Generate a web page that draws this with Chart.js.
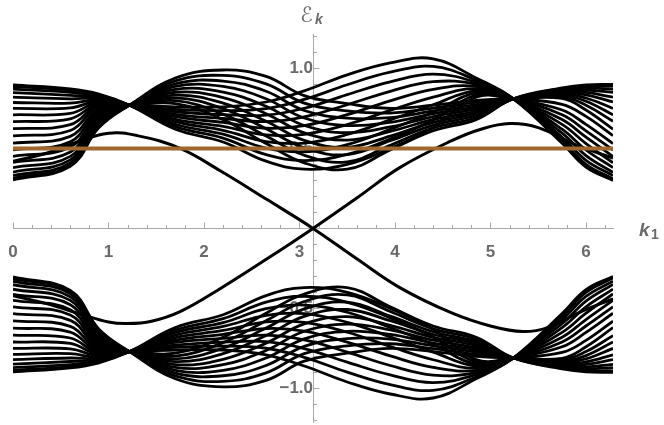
<!DOCTYPE html>
<html>
<head>
<meta charset="utf-8">
<script src="https://cdn.jsdelivr.net/npm/chart.js@4.4.1/dist/chart.umd.min.js"></script>
<style>
  html, body { margin: 0; padding: 0; background: #fff; }
</style>
</head>
<body>
<canvas id="bands" width="664" height="425"></canvas>
<script>
// k_1 sample points shared by every bulk band
const kGrid = [0, 0.6, 0.9, 1.22, 1.7, 2.2, 2.65, 3.05, 3.5, 3.95, 4.4, 4.85, 5.24, 5.75, 6.0, 6.283];

// positive-energy bulk bands at the kGrid points
const upperBands = [
  [0.897, 0.872, 0.840, 0.77, 0.620, 0.540, 0.420, 0.370, 0.400, 0.500, 0.630, 0.820, 0.81, 0.775, 0.700, 0.58],
  [0.887, 0.864, 0.834, 0.77, 0.636, 0.564, 0.461, 0.424, 0.462, 0.559, 0.678, 0.833, 0.81, 0.740, 0.650, 0.53],
  [0.870, 0.851, 0.827, 0.77, 0.651, 0.589, 0.502, 0.479, 0.524, 0.619, 0.726, 0.847, 0.81, 0.710, 0.610, 0.49],
  [0.848, 0.832, 0.820, 0.77, 0.667, 0.613, 0.543, 0.533, 0.587, 0.678, 0.773, 0.860, 0.81, 0.680, 0.570, 0.45],
  [0.820, 0.810, 0.812, 0.77, 0.682, 0.638, 0.584, 0.588, 0.649, 0.738, 0.821, 0.873, 0.81, 0.650, 0.530, 0.41],
  [0.787, 0.783, 0.805, 0.77, 0.698, 0.662, 0.626, 0.642, 0.711, 0.797, 0.869, 0.887, 0.81, 0.620, 0.490, 0.38],
  [0.750, 0.753, 0.797, 0.77, 0.713, 0.687, 0.667, 0.697, 0.773, 0.857, 0.917, 0.900, 0.81, 0.595, 0.455, 0.35],
  [0.710, 0.719, 0.790, 0.77, 0.729, 0.711, 0.708, 0.751, 0.836, 0.916, 0.964, 0.913, 0.81, 0.570, 0.425, 0.33],
  [0.667, 0.685, 0.782, 0.77, 0.744, 0.736, 0.749, 0.806, 0.898, 0.976, 1.012, 0.927, 0.81, 0.550, 0.400, 0.31],
  [0.623, 0.648, 0.775, 0.77, 0.760, 0.760, 0.790, 0.860, 0.960, 1.035, 1.060, 0.940, 0.81, 0.532, 0.383, 0.30],
  [0.578, 0.612, 0.765, 0.77, 0.780, 0.680, 0.530, 0.410, 0.370, 0.490, 0.610, 0.680, 0.81, 0.878, 0.897, 0.90],
  [0.533, 0.575, 0.750, 0.77, 0.798, 0.714, 0.577, 0.457, 0.416, 0.519, 0.628, 0.693, 0.81, 0.874, 0.888, 0.89],
  [0.491, 0.541, 0.735, 0.77, 0.816, 0.749, 0.623, 0.503, 0.461, 0.548, 0.646, 0.707, 0.81, 0.869, 0.878, 0.87],
  [0.450, 0.508, 0.720, 0.77, 0.833, 0.783, 0.670, 0.550, 0.507, 0.577, 0.663, 0.720, 0.81, 0.863, 0.865, 0.85],
  [0.413, 0.477, 0.705, 0.77, 0.851, 0.818, 0.717, 0.597, 0.552, 0.606, 0.681, 0.733, 0.81, 0.856, 0.850, 0.82],
  [0.380, 0.450, 0.690, 0.77, 0.869, 0.852, 0.763, 0.643, 0.598, 0.634, 0.699, 0.747, 0.81, 0.849, 0.835, 0.79],
  [0.352, 0.428, 0.675, 0.77, 0.887, 0.887, 0.810, 0.690, 0.643, 0.663, 0.717, 0.760, 0.81, 0.841, 0.815, 0.75],
  [0.330, 0.409, 0.660, 0.77, 0.904, 0.921, 0.857, 0.737, 0.689, 0.692, 0.734, 0.773, 0.81, 0.832, 0.795, 0.71],
  [0.313, 0.396, 0.645, 0.77, 0.922, 0.956, 0.903, 0.783, 0.734, 0.721, 0.752, 0.787, 0.81, 0.822, 0.770, 0.67],
  [0.303, 0.388, 0.630, 0.77, 0.940, 0.990, 0.950, 0.830, 0.780, 0.750, 0.770, 0.800, 0.81, 0.812, 0.740, 0.62]
];

// negative-energy bulk bands
const lowerBands = [
  [-0.897, -0.872, -0.840, -0.77, -0.620, -0.540, -0.420, -0.370, -0.400, -0.500, -0.630, -0.820, -0.81, -0.775, -0.700, -0.58],
  [-0.887, -0.864, -0.834, -0.77, -0.636, -0.564, -0.461, -0.424, -0.462, -0.559, -0.678, -0.833, -0.81, -0.740, -0.650, -0.53],
  [-0.870, -0.851, -0.827, -0.77, -0.651, -0.589, -0.502, -0.479, -0.524, -0.619, -0.726, -0.847, -0.81, -0.710, -0.610, -0.49],
  [-0.848, -0.832, -0.820, -0.77, -0.667, -0.613, -0.543, -0.533, -0.587, -0.678, -0.773, -0.860, -0.81, -0.680, -0.570, -0.45],
  [-0.820, -0.810, -0.812, -0.77, -0.682, -0.638, -0.584, -0.588, -0.649, -0.738, -0.821, -0.873, -0.81, -0.650, -0.530, -0.41],
  [-0.787, -0.783, -0.805, -0.77, -0.698, -0.662, -0.626, -0.642, -0.711, -0.797, -0.869, -0.887, -0.81, -0.620, -0.490, -0.38],
  [-0.750, -0.753, -0.797, -0.77, -0.713, -0.687, -0.667, -0.697, -0.773, -0.857, -0.917, -0.900, -0.81, -0.595, -0.455, -0.35],
  [-0.710, -0.719, -0.790, -0.77, -0.729, -0.711, -0.708, -0.751, -0.836, -0.916, -0.964, -0.913, -0.81, -0.570, -0.425, -0.33],
  [-0.667, -0.685, -0.782, -0.77, -0.744, -0.736, -0.749, -0.806, -0.898, -0.976, -1.012, -0.927, -0.81, -0.550, -0.400, -0.31],
  [-0.623, -0.648, -0.775, -0.77, -0.760, -0.760, -0.790, -0.860, -0.960, -1.035, -1.060, -0.940, -0.81, -0.532, -0.383, -0.30],
  [-0.578, -0.612, -0.765, -0.77, -0.780, -0.680, -0.530, -0.410, -0.370, -0.490, -0.610, -0.680, -0.81, -0.878, -0.897, -0.90],
  [-0.533, -0.575, -0.750, -0.77, -0.798, -0.714, -0.577, -0.457, -0.416, -0.519, -0.628, -0.693, -0.81, -0.874, -0.888, -0.89],
  [-0.491, -0.541, -0.735, -0.77, -0.816, -0.749, -0.623, -0.503, -0.461, -0.548, -0.646, -0.707, -0.81, -0.869, -0.878, -0.87],
  [-0.450, -0.508, -0.720, -0.77, -0.833, -0.783, -0.670, -0.550, -0.507, -0.577, -0.663, -0.720, -0.81, -0.863, -0.865, -0.85],
  [-0.413, -0.477, -0.705, -0.77, -0.851, -0.818, -0.717, -0.597, -0.552, -0.606, -0.681, -0.733, -0.81, -0.856, -0.850, -0.82],
  [-0.380, -0.450, -0.690, -0.77, -0.869, -0.852, -0.763, -0.643, -0.598, -0.634, -0.699, -0.747, -0.81, -0.849, -0.835, -0.79],
  [-0.352, -0.428, -0.675, -0.77, -0.887, -0.887, -0.810, -0.690, -0.643, -0.663, -0.717, -0.760, -0.81, -0.841, -0.815, -0.75],
  [-0.330, -0.409, -0.660, -0.77, -0.904, -0.921, -0.857, -0.737, -0.689, -0.692, -0.734, -0.773, -0.81, -0.832, -0.795, -0.71],
  [-0.313, -0.396, -0.645, -0.77, -0.922, -0.956, -0.903, -0.783, -0.734, -0.721, -0.752, -0.787, -0.81, -0.822, -0.770, -0.67],
  [-0.303, -0.388, -0.630, -0.77, -0.940, -0.990, -0.950, -0.830, -0.780, -0.750, -0.770, -0.800, -0.81, -0.812, -0.740, -0.62]
];

// the two edge modes crossing at k = pi
const edgeK1 = [0, 0.35, 0.65, 1.0, 1.3, 1.75, 2.17, 2.66, 3.1416, 3.6, 4.05, 4.6, 5.0, 5.34, 5.6, 5.95, 6.283];
const edgeE1 = [0.42, 0.47, 0.535, 0.595, 0.58, 0.50, 0.36, 0.18, 0, -0.19, -0.37, -0.53, -0.61, -0.645, -0.62, -0.52, -0.44];
const edgeK2 = [0, 0.35, 0.73, 1.0, 1.19, 1.45, 1.75, 2.16, 2.66, 3.1416, 3.6, 4.05, 4.6, 4.9, 5.2, 5.5, 5.9, 6.283];
const edgeE2 = [-0.42, -0.47, -0.54, -0.585, -0.595, -0.58, -0.52, -0.38, -0.19, 0, 0.19, 0.38, 0.55, 0.62, 0.655, 0.63, 0.52, 0.44];

const fermiLevel = 0.5;
const kMin = 0, kMax = 6.283;
const xTickVals = [0, 1, 2, 3, 4, 5, 6];
const yTickVals = [-1, -0.5, 0.5, 1];

const axisGray = '#a8a8a8';
const labelGray = '#6a6a6a';
const labelFont = { family: '"Liberation Sans", Arial, sans-serif', size: 17, weight: 'bold' };

function curve(ks, es, color, width, order) {
  return {
    data: ks.map((k, i) => ({ x: k, y: es[i] })),
    borderColor: color,
    borderWidth: width,
    tension: 0.4,
    order: order
  };
}

const datasets = [curve([kMin, kMax], [fermiLevel, fermiLevel], '#a0682f', 4, 0)];
upperBands.forEach(b => datasets.push(curve(kGrid, b, '#000', 2.8, 1)));
lowerBands.forEach(b => datasets.push(curve(kGrid, b, '#000', 2.8, 1)));
datasets.push(curve(edgeK1, edgeE1, '#000', 3, 1));
datasets.push(curve(edgeK2, edgeE2, '#000', 3, 1));

// Mathematica-style ticks: minor + major, drawn on the inside of the axes
const axisTicks = {
  id: 'axisTicks',
  beforeDatasetsDraw(chart) {
    const { ctx, scales: { x, y } } = chart;
    const x0 = Math.round(x.getPixelForValue(Math.PI)) + 0.5;
    const y0 = Math.round(y.getPixelForValue(0)) + 0.5;
    ctx.save();
    ctx.strokeStyle = axisGray;
    ctx.lineWidth = 1;
    ctx.beginPath();
    for (let i = 0; i <= 31; i++) {
      const px = Math.round(x.getPixelForValue(i / 5)) + 0.5;
      const len = i % 5 === 0 ? 6 : 3.5;
      ctx.moveTo(px, y0);
      ctx.lineTo(px, y0 - len);
    }
    for (let i = -12; i <= 12; i++) {
      if (i === 0) continue;
      const py = Math.round(y.getPixelForValue(i / 10)) + 0.5;
      const len = i % 5 === 0 ? 6 : 3.5;
      ctx.moveTo(x0, py);
      ctx.lineTo(x0 + len, py);
    }
    ctx.stroke();
    ctx.restore();
  },
  afterDraw(chart) {
    const { ctx, scales: { x, y } } = chart;
    const x0 = x.getPixelForValue(Math.PI);
    const y0 = y.getPixelForValue(0);
    ctx.save();
    ctx.fillStyle = labelGray;
    ctx.textBaseline = 'alphabetic';
    // vertical axis label
    ctx.font = '21px "DejaVu Sans", sans-serif';
    ctx.fillText('\u2130', x0 - 13, chart.chartArea.top - 12);
    ctx.font = 'bold italic 14px "Liberation Sans", sans-serif';
    ctx.fillText('k', x0 + 2, chart.chartArea.top - 10);
    // horizontal axis label
    const xr = x.getPixelForValue(kMax);
    ctx.font = 'bold italic 19px "Liberation Sans", sans-serif';
    ctx.fillText('k', xr + 26, y0 + 8);
    ctx.font = 'bold 14px "Liberation Sans", sans-serif';
    ctx.fillText('1', xr + 38, y0 + 11);
    ctx.restore();
  }
};

new Chart(document.getElementById('bands'), {
  type: 'scatter',
  data: { datasets },
  options: {
    responsive: false,
    devicePixelRatio: 1,
    animation: false,
    events: [],
    layout: { padding: { left: 13, right: 51, top: 34, bottom: 3 } },
    elements: { point: { radius: 0 } },
    datasets: { scatter: { showLine: true } },
    plugins: { legend: { display: false }, tooltip: { enabled: false } },
    scales: {
      x: {
        type: 'linear',
        min: kMin,
        max: kMax,
        position: { y: 0 },
        grid: { display: false },
        border: { display: true, color: axisGray, width: 1 },
        ticks: { color: labelGray, font: labelFont, padding: 6, autoSkip: false, maxRotation: 0,
                 callback: v => String(v) },
        afterBuildTicks: s => { s.ticks = xTickVals.map(v => ({ value: v })); },
        afterFit: s => { s.height = 0; s.paddingLeft = 0; s.paddingRight = 0; }
      },
      y: {
        type: 'linear',
        min: -1.21,
        max: 1.215,
        position: { x: Math.PI },
        grid: { display: false },
        border: { display: true, color: axisGray, width: 1 },
        ticks: { color: labelGray, font: labelFont, padding: 6, autoSkip: false,
                 callback: v => (v < 0 ? '\u2212' : '') + Math.abs(v).toFixed(1) },
        afterBuildTicks: s => { s.ticks = yTickVals.map(v => ({ value: v })); },
        afterFit: s => { s.width = 0; s.paddingTop = 0; s.paddingBottom = 0; }
      }
    }
  },
  plugins: [axisTicks]
});
</script>
</body>
</html>
